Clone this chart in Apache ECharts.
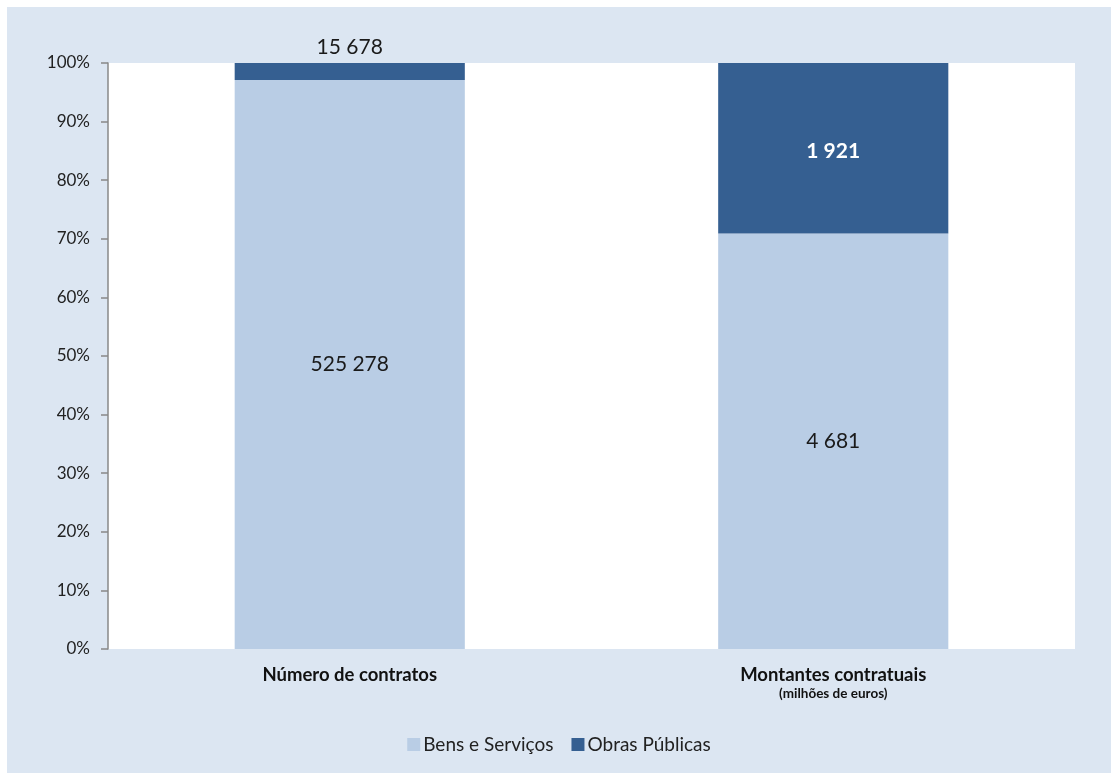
<!DOCTYPE html>
<html>
<head>
<meta charset="utf-8">
<script src="https://cdn.jsdelivr.net/npm/echarts@6/dist/echarts.min.js"></script>
<style>
  html, body { margin: 0; padding: 0; background: #ffffff; }
  #chart { position: absolute; left: 7px; top: 7px; width: 1104px; height: 766px; }
</style>
</head>
<body>
<div id="chart"></div>
<script>
var categories = ['Número de contratos', 'Montantes contratuais'];
var bensServicos = [525278, 4681];
var obrasPublicas = [15678, 1921];
var yTicks = ['0%', '10%', '20%', '30%', '40%', '50%', '60%', '70%', '80%', '90%', '100%'];

var FONT = 'Lato, "Open Sans", sans-serif';

function fmt(n) {
  // 525278 -> "525 278"
  return String(n).replace(/\B(?=(\d{3})+(?!\d))/g, ' ');
}

// share of each series in the total of its category, in %
var pctBens = [], pctObras = [];
for (var i = 0; i < categories.length; i++) {
  var tot = bensServicos[i] + obrasPublicas[i];
  pctBens.push(bensServicos[i] / tot * 100);
  pctObras.push(obrasPublicas[i] / tot * 100);
}

var myChart = echarts.init(document.getElementById('chart'));

var option = {
  backgroundColor: '#dce6f2',
  textStyle: { fontFamily: FONT },
  grid: { left: 101, right: 36, top: 56, bottom: 124, backgroundColor: '#ffffff', show: true, borderWidth: 0 },
  legend: {
    bottom: 14,
    left: 'center',
    itemWidth: 13,
    itemHeight: 13,
    itemGap: 18,
    icon: 'rect',
    textStyle: { fontFamily: FONT, fontSize: 19, color: '#222222', padding: [0, 0, 0, -2] },
    data: ['Bens e Serviços', 'Obras Públicas']
  },
  xAxis: {
    type: 'category',
    data: categories,
    axisLine: { show: false },
    axisTick: { show: false },
    axisLabel: {
      margin: 15,
      interval: 0,
      formatter: function (v) {
        if (v === 'Montantes contratuais') return '{b|' + v + '}\n{s|(milhões de euros)}';
        return '{b|' + v + '}';
      },
      rich: {
        b: { fontFamily: FONT, fontSize: 18.5, fontWeight: 'bold', color: '#111111', lineHeight: 22 },
        s: { fontFamily: FONT, fontSize: 13.5, fontWeight: 'bold', color: '#111111', lineHeight: 15 }
      }
    }
  },
  yAxis: {
    type: 'value',
    min: 0,
    max: 100,
    interval: 10,
    axisLine: { show: true, lineStyle: { color: '#888888', width: 1.5 } },
    axisTick: { show: true, inside: false, length: 7, lineStyle: { color: '#888888', width: 1.5 } },
    splitLine: { show: false },
    axisLabel: {
      margin: 18,
      fontFamily: FONT,
      fontSize: 17,
      color: '#222222',
      formatter: function (v) { return yTicks[Math.round(v / 10)]; }
    }
  },
  series: [
    {
      name: 'Bens e Serviços',
      type: 'bar',
      stack: 'total',
      barWidth: '47.6%',
      itemStyle: { color: '#b9cde5' },
      label: {
        show: true,
        position: 'inside',
        fontFamily: FONT,
        fontSize: 21,
        color: '#1a1a1a',
        formatter: function (p) { return fmt(bensServicos[p.dataIndex]); }
      },
      data: pctBens
    },
    {
      name: 'Obras Públicas',
      type: 'bar',
      stack: 'total',
      itemStyle: { color: '#355f91' },
      label: {
        show: true,
        position: 'inside',
        offset: [0, 3],
        fontFamily: FONT,
        fontSize: 21,
        fontWeight: 'bold',
        color: '#ffffff',
        formatter: function (p) { return fmt(obrasPublicas[p.dataIndex]); }
      },
      data: pctObras.map(function (v, i) {
        if (i === 0) {
          return { value: v, label: { position: 'top', distance: 5, offset: [0, 0], fontWeight: 'normal', color: '#1a1a1a' } };
        }
        return v;
      })
    }
  ]
};

option && myChart.setOption(option);
</script>
</body>
</html>
